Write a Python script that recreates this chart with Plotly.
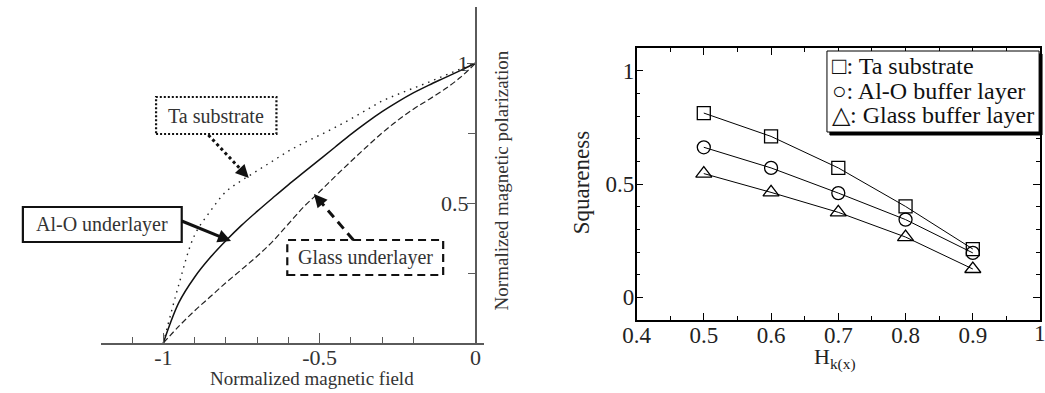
import plotly.graph_objects as go
import math

# ---------------- data ----------------
# Left panel: normalized magnetic field vs normalized magnetic polarization (read every 0.05)
field = [-1.0, -0.95, -0.9, -0.85, -0.8, -0.75, -0.7, -0.65, -0.6, -0.55, -0.5,
         -0.45, -0.4, -0.35, -0.3, -0.25, -0.2, -0.15, -0.1, -0.05, 0.0]
pol_ta = [0.0, 0.21, 0.385, 0.47, 0.54, 0.58, 0.615, 0.65, 0.685, 0.715, 0.742,
          0.77, 0.80, 0.832, 0.864, 0.888, 0.91, 0.932, 0.955, 0.978, 1.0]
pol_alo = [0.0, 0.145, 0.235, 0.305, 0.365, 0.42, 0.47, 0.518, 0.565, 0.61, 0.655,
           0.70, 0.745, 0.787, 0.826, 0.861, 0.893, 0.921, 0.947, 0.973, 1.0]
pol_glass = [0.0, 0.06, 0.115, 0.165, 0.215, 0.262, 0.31, 0.363, 0.425, 0.487, 0.54,
             0.595, 0.648, 0.70, 0.75, 0.795, 0.835, 0.87, 0.906, 0.948, 1.0]

# Right panel: squareness vs Hk(x)
hk = [0.5, 0.6, 0.7, 0.8, 0.9]
sq_ta = [0.813, 0.710, 0.571, 0.401, 0.213]
sq_alo = [0.662, 0.571, 0.460, 0.343, 0.196]
sq_glass = [0.546, 0.463, 0.375, 0.266, 0.125]

left_xticks = [-1, -0.5]
left_xlabels = ["-1", "-0.5"]
left_zero_label = "0"
left_yticks = [0.5, 1]
left_ylabels = ["0.5", "1"]
right_xticks = [0.4, 0.5, 0.6, 0.7, 0.8, 0.9]
right_xlabels = ["0.4", "0.5", "0.6", "0.7", "0.8", "0.9"]
right_last_label = "1"
right_yticks = [0, 0.5, 1]
right_ylabels = ["0", "0.5", "1"]

legend_labels = ["\u25a1: Ta substrate", "\u25cb: Al-O buffer layer", "\u25b3: Glass buffer layer"]
callout_labels = ["Ta substrate", "Al-O underlayer", "Glass underlayer"]

# ---------------- layout helpers ----------------
W, H = 1045, 393
def px(x):
    return x / W
def py(y):
    return 1 - y / H

SERIF = "Liberation Serif, Times New Roman, serif"
GREY = "#5a5a5a"
TXT = "#333333"

fig = go.Figure()

# left curves
fig.add_trace(go.Scatter(x=field, y=pol_ta, mode="lines", line=dict(color="#222", width=1.4, dash="1.5px,5px", shape="spline", smoothing=1),
                         xaxis="x", yaxis="y", showlegend=False))
fig.add_trace(go.Scatter(x=field, y=pol_alo, mode="lines", line=dict(color="#111", width=1.5, shape="spline", smoothing=1),
                         xaxis="x", yaxis="y", showlegend=False))
fig.add_trace(go.Scatter(x=field, y=pol_glass, mode="lines", line=dict(color="#222", width=1.2, dash="6px,3px", shape="spline", smoothing=1),
                         xaxis="x", yaxis="y", showlegend=False))

# right series
for ys, sym, sz in [(sq_ta, "square-open", 13), (sq_alo, "circle-open", 13), (sq_glass, "triangle-up-open", 14)]:
    fig.add_trace(go.Scatter(x=hk, y=ys, mode="lines+markers",
                             line=dict(color="black", width=1),
                             marker=dict(symbol=sym, size=sz, color="black", line=dict(width=1.3)),
                             xaxis="x2", yaxis="y2", showlegend=False))

# left axes geometry
lx0, lx1 = 88, 476
lxr = [-1.2, 0.025]
ly0, ly1 = 7, 343
yaxis_pos = px(lx0 + (0 - lxr[0]) / (lxr[1] - lxr[0]) * (lx1 - lx0))

fig.update_layout(
    width=W, height=H,
    margin=dict(l=0, r=0, t=0, b=0),
    paper_bgcolor="white", plot_bgcolor="rgba(0,0,0,0)",
    font=dict(family=SERIF, color=TXT),
    xaxis=dict(domain=[px(lx0), px(lx1)], range=lxr, anchor="y",
               showline=True, linecolor=GREY, linewidth=1.5, showgrid=False, zeroline=False,
               tickmode="array", tickvals=left_xticks, ticktext=left_xlabels,
               ticks="inside", ticklen=10, tickwidth=1.3, tickcolor=GREY, ticklabelstandoff=-6,
               tickfont=dict(size=22, color=TXT, family=SERIF),
               minor=dict(dtick=0.1, tick0=0, ticks="inside", ticklen=6, tickcolor=GREY, tickwidth=1.2)),
    yaxis=dict(domain=[py(ly1), py(ly0)], range=[0, 1.2], anchor="free", position=yaxis_pos, side="right",
               showline=True, linecolor=GREY, linewidth=1.5, showgrid=False, zeroline=False,
               tickmode="array", tickvals=left_yticks, ticktext=left_ylabels,
               ticks="inside", ticklen=8, tickwidth=1.3, tickcolor=GREY, ticklabelposition="inside",
               tickfont=dict(size=22, color=TXT, family=SERIF),
               minor=dict(dtick=0.25, tick0=0, ticks="inside", ticklen=7, tickcolor=GREY, tickwidth=1.2)),
    xaxis2=dict(domain=[px(631), px(1040)], range=[0.4, 1.0], anchor="y2",
                showline=True, linecolor="black", linewidth=1.5, mirror="ticks", showgrid=False, zeroline=False,
                tickmode="array", tickvals=right_xticks, ticktext=right_xlabels,
                ticks="inside", ticklen=7, tickwidth=1.2, tickcolor="black", ticklabelstandoff=-6,
                tickfont=dict(size=23, color="#222", family=SERIF),
                minor=dict(dtick=0.05, tick0=0, ticks="inside", ticklen=4, tickcolor="black", tickwidth=1)),
    yaxis2=dict(domain=[py(320), py(48)], range=[-0.1, 1.1], anchor="x2",
                showline=True, linecolor="black", linewidth=1.5, mirror="ticks", showgrid=False, zeroline=False,
                tickmode="array", tickvals=right_yticks, ticktext=right_ylabels,
                ticks="inside", ticklen=7, tickwidth=1.2, tickcolor="black", ticklabelstandoff=-4,
                tickfont=dict(size=23, color="#222", family=SERIF),
                minor=dict(dtick=0.1, tick0=0, ticks="inside", ticklen=4, tickcolor="black", tickwidth=1)),
)

shapes = []
annotations = []

def label(xp, yp, text, size, color=TXT, angle=0, xanchor="center"):
    annotations.append(dict(x=px(xp), y=py(yp), xref="paper", yref="paper", text=text,
                            xanchor=xanchor, yanchor="middle", showarrow=False, textangle=angle,
                            font=dict(size=size, color=color, family=SERIF)))

# "0" tick label of the left x axis (placed at data x = 0)
annotations.append(dict(x=0, y=py(357), xref="x", yref="paper", text=left_zero_label,
                        xanchor="center", yanchor="middle", showarrow=False,
                        font=dict(size=22, color=TXT, family=SERIF)))
# "1" tick label at the right end of the right x axis (partly cut by the page edge)
annotations.append(dict(x=1.0, y=py(333), xref="x2", yref="paper", text=right_last_label,
                        xanchor="center", yanchor="middle", showarrow=False,
                        font=dict(size=23, color="#222", family=SERIF)))

# axis titles
label(302, 378, "Normalized magnetic field", 19)
label(494, 180, "Normalized magnetic polarization", 19, angle=-90)
label(575, 182, "Squareness", 23, color="#222", angle=-90)
label(832, 358, "H<sub>k(x)</sub>", 22, color="#222")

# callout boxes with arrows
callouts = [
    # label, box (x0,y0,x1,y1), border dash, shaft start, tip, shaft dash
    (callout_labels[0], (144, 97, 266, 134), "2px,2px", (197, 135), (238, 178), "3px,3px"),
    (callout_labels[1], (9, 207, 170, 242), "solid", (170, 221), (220, 241), "solid"),
    (callout_labels[2], (277, 240, 435, 275), "8px,5px", (344, 240), (304, 194), "9px,6px"),
]
for text, (bx0, by0, bx1, by1), bdash, (sx, sy), (tx, ty), sdash in callouts:
    shapes.append(dict(type="rect", xref="paper", yref="paper", x0=px(bx0), x1=px(bx1), y0=py(by1), y1=py(by0),
                       line=dict(color="#111", width=2.2, dash=bdash), fillcolor="rgba(0,0,0,0)"))
    label((bx0 + bx1) / 2, (by0 + by1) / 2, text, 20)
    dx, dy = tx - sx, ty - sy
    L = math.hypot(dx, dy)
    ux, uy = dx / L, dy / L
    shapes.append(dict(type="line", xref="paper", yref="paper", x0=px(sx), y0=py(sy), x1=px(tx - ux * 8), y1=py(ty - uy * 8),
                       line=dict(color="#111", width=3, dash=sdash)))
    annotations.append(dict(x=px(tx), y=py(ty), xref="paper", yref="paper", text="", showarrow=True,
                            ax=-ux * 12, ay=-uy * 12, axref="pixel", ayref="pixel",
                            arrowhead=2, arrowsize=1.2, arrowwidth=2.2, arrowcolor="#111", standoff=0))

# legend box with shadow
shapes.append(dict(type="rect", xref="paper", yref="paper", x0=px(827), x1=px(1042), y0=py(135), y1=py(54),
                   line=dict(color="black", width=1), fillcolor="black"))
shapes.append(dict(type="rect", xref="paper", yref="paper", x0=px(824), x1=px(1039), y0=py(132), y1=py(51),
                   line=dict(color="black", width=1), fillcolor="white"))
for i, lab in enumerate(legend_labels):
    label(827, 66 + 24.5 * i, lab, 24, color="#111", xanchor="left")

fig.update_layout(shapes=shapes, annotations=annotations)

fig.write_html("out.html", config={"displayModeBar": False},
               post_script="document.body.style.margin='0';document.body.style.overflow='hidden';")
